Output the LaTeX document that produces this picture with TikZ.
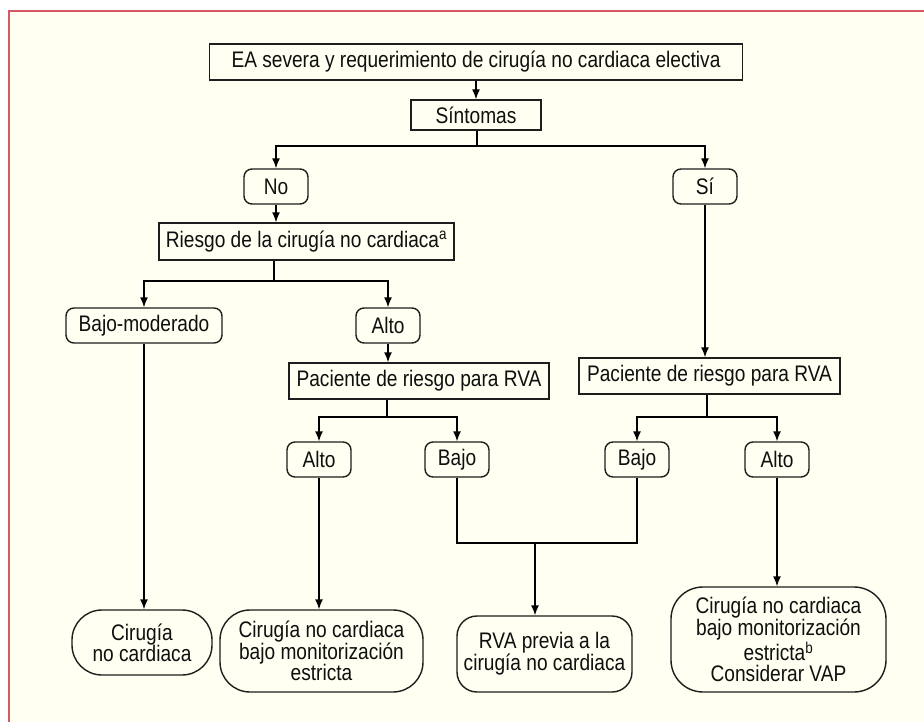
\documentclass[tikz,border=0pt]{standalone}
\usepackage{fontspec}
\setmainfont[FakeStretch=0.85]{Liberation Sans}
\usetikzlibrary{arrows.meta}

\begin{document}
\begin{tikzpicture}[>={Latex[length=10pt,width=8pt]}, x=1pt, y=-1pt,
  line width=1.4pt,
  every node/.style={font=\fontsize{22.5}{21}\selectfont, align=center, inner sep=0pt, text=txt},
  box/.style={draw=lin, rectangle, minimum height=36pt},
  opt/.style={draw=lin, rounded corners=8pt, minimum width=64pt, minimum height=35pt},
  endbox/.style={draw=lin, rounded corners=#1}]

\definecolor{bg}{RGB}{255,255,242}
\definecolor{frm}{RGB}{212,88,102}
\definecolor{lin}{RGB}{30,30,30}
\definecolor{txt}{RGB}{15,15,15}

\useasboundingbox (0,0) rectangle (924,722);
\fill[bg] (9,11) rectangle (924,722);
\draw[frm, line width=2pt] (9,722) -- (9,11) -- (924,11);

\node[box, minimum width=533pt] (top) at (476,62) {EA severa y requerimiento de cirugía no cardiaca electiva};
\node[box, minimum width=130pt, minimum height=30pt] (sint) at (476,115) {Síntomas};
\node[opt] (no) at (276,186.5) {No};
\node[opt] (si) at (705,186.5) {Sí};
\node[box, minimum width=295pt, minimum height=37pt] (riesgo) at (306.5,241.5) {Riesgo de la cirugía no cardiaca\textsuperscript{a}};
\node[opt, minimum width=156pt] (bajomod) at (144,325.5) {Bajo-moderado};
\node[opt] (alto1) at (388,325.5) {Alto};
\node[box, minimum width=260pt] (pac1) at (419,381) {Paciente de riesgo para RVA};
\node[box, minimum width=261pt] (pac2) at (709.5,376) {Paciente de riesgo para RVA};
\node[opt] (alto2) at (319,459.5) {Alto};
\node[opt] (bajo1) at (457,459.5) {Bajo};
\node[opt] (bajo2) at (637,459.5) {Bajo};
\node[opt] (alto3) at (777,459.5) {Alto};
\node[endbox=30pt, minimum width=140pt, minimum height=65pt] (cir1) at (142,642.5) {Cirugía\\no cardiaca};
\node[endbox=30pt, minimum width=203pt, minimum height=82pt] (cir2) at (321.5,651) {Cirugía no cardiaca\\bajo monitorización\\estricta};
\node[endbox=20pt, minimum width=175pt, minimum height=76pt] (rva) at (544.5,654) {RVA previa a la\\cirugía no cardiaca};
\node[endbox=32pt, minimum width=215pt, minimum height=105pt] (cir3) at (778.5,639.5) {Cirugía no cardiaca\\bajo monitorización\\estricta\textsuperscript{b}\\Considerar VAP};

\coordinate (b1) at (477,146);
\coordinate (b2) at (274,281);
\coordinate (b3) at (387,417);
\coordinate (b4) at (707,417);
\coordinate (b5) at (535,543);

\draw[->] (top) -- (sint);
\draw (sint.south -| b1) -- (b1);
\draw[->] (b1) -| (no);
\draw[->] (b1) -| (si);
\draw[->] (no) -- (no |- riesgo.north);
\draw (riesgo.south -| b2) -- (b2);
\draw[->] (b2) -| (bajomod);
\draw[->] (b2) -| (alto1);
\draw[->] (alto1) -- (alto1 |- pac1.north);
\draw (pac1.south -| b3) -- (b3);
\draw[->] (b3) -| (alto2);
\draw[->] (b3) -| (bajo1);
\draw[->] (si) -- (si |- pac2.north);
\draw (pac2.south -| b4) -- (b4);
\draw[->] (b4) -| (bajo2);
\draw[->] (b4) -| (alto3);
\draw[->] (bajomod) -- (bajomod |- cir1.north);
\draw[->] (alto2) -- (alto2 |- cir2.north);
\draw (bajo1) |- (b5) -| (bajo2);
\draw[->] (b5) -- (b5 |- rva.north);
\draw[->] (alto3) -- (alto3 |- cir3.north);

\end{tikzpicture}
\end{document}
